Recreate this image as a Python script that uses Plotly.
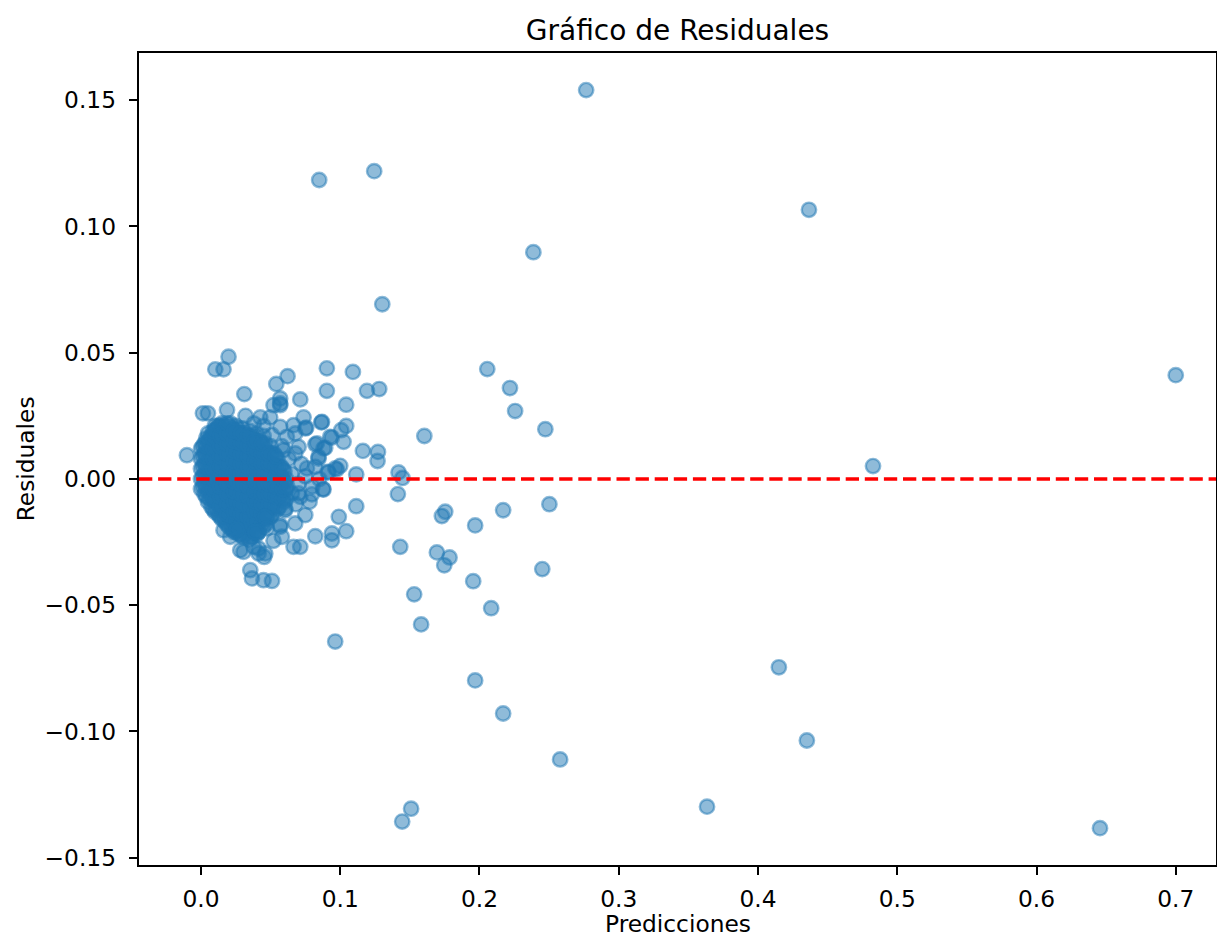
import plotly.graph_objects as go

# ---------------- data ----------------
# isolated / scattered points (predicción, residual)
scatter_pred = [
    0.2766, 0.0849, 0.1244, 0.4366, 0.2387, 0.1302, 0.7000, 0.2056, 0.2219, 0.2256,
    0.2473, 0.4826, 0.1604, 0.2502, 0.2170, 0.1969, 0.2451, 0.1955, 0.2084, 0.1531,
    0.1581, 0.0964, 0.1969, 0.2170, 0.4150, 0.4351, 0.2579, 0.3634, 0.1509, 0.1445,
    0.6456,
    0.0904, 0.1091, 0.0904, 0.1192, 0.1280, 0.0713, 0.1043, 0.0737, 0.0864, 0.0756,
    0.1043, 0.1007, 0.0940, 0.1024, 0.0821, 0.0892, 0.0844, 0.1163, 0.1271, 0.1268,
    0.1000, 0.0976, 0.0916, 0.1115, 0.1419, 0.1447, 0.1414, 0.0876, 0.0749, 0.1115,
    0.0990, 0.1043, 0.0940, 0.0940, 0.0821, 0.1431, 0.1754, 0.1730, 0.1694, 0.1785,
    0.1747, 0.0713,
    0.0198, 0.0103, 0.0162, 0.0311, 0.0622, 0.0541, 0.0569, 0.0569, 0.0014, 0.0187,
    0.0426, 0.0497, -0.0101, 0.0665, 0.0605, 0.0701, 0.0569, 0.0521, 0.0474, 0.0414,
    0.0282, 0.0378, 0.0414, 0.0454, 0.0354, 0.0366, 0.0449, 0.0510, 0.0210, 0.0162,
    0.0258,
    0.0869, 0.0749, 0.0928, 0.0833, 0.0880, 0.0665, 0.0677, 0.0617, 0.0701, 0.0593,
    0.0677, 0.0844, 0.0761, 0.0821, 0.0964, 0.0909, 0.0880, 0.0797, 0.0713, 0.0653,
    0.0677, 0.0605, 0.0569, 0.0462, 0.0474, 0.0581, 0.0390, 0.0414, 0.0306, 0.0462,
    0.0569, 0.0510, 0.0521, 0.0569,
    0.0650, 0.0700, 0.0750, 0.0800, 0.0850, 0.0720, 0.0680, 0.0780, 0.0630, 0.0580,
    0.0620, 0.0050, 0.0320, 0.0380, 0.0450,
]
scatter_resid = [
    0.1540, 0.1184, 0.1219, 0.1066, 0.0898, 0.0692, 0.0411, 0.0435, 0.0360, 0.0269,
    0.0197, 0.0051, 0.0170, -0.0100, -0.0124, -0.0184, -0.0357, -0.0405, -0.0512, -0.0457,
    -0.0576, -0.0644, -0.0798, -0.0929, -0.0746, -0.1036, -0.1111, -0.1298, -0.1306, -0.1357,
    -0.1383,
    0.0438, 0.0424, 0.0349, 0.0349, 0.0356, 0.0315, 0.0294, 0.0244, 0.0224, 0.0203,
    0.0210, 0.0193, 0.0164, 0.0147, 0.0137, 0.0123, 0.0088, 0.0111, 0.0107, 0.0071,
    0.0052, 0.0038, 0.0026, 0.0018, 0.0026, 0.0004, -0.0060, -0.0040, -0.0143, -0.0108,
    -0.0150, -0.0207, -0.0216, -0.0243, -0.0227, -0.0269, -0.0130, -0.0147, -0.0291, -0.0311,
    -0.0342, -0.0269,
    0.0484, 0.0434, 0.0434, 0.0336, 0.0407, 0.0376, 0.0319, 0.0292, 0.0260, 0.0273,
    0.0244, 0.0244, 0.0094, -0.0269, -0.0124, -0.0057, -0.0190, -0.0245, -0.0157, -0.0210,
    -0.0282, -0.0269, -0.0295, -0.0309, -0.0361, -0.0394, -0.0401, -0.0404, -0.0229, -0.0203,
    -0.0200,
    0.0226, 0.0200, 0.0167, 0.0141, 0.0121, 0.0213, 0.0180, 0.0167, 0.0127, 0.0114,
    0.0101, 0.0081, 0.0042, 0.0048, 0.0042, 0.0028, -0.0042, -0.0061, -0.0071, -0.0057,
    -0.0176, -0.0117, -0.0183, -0.0150, -0.0196, -0.0229, -0.0210, -0.0275, -0.0289, -0.0295,
    0.0206, 0.0174, 0.0292, 0.0299,
    0.0020, -0.0020, 0.0010, -0.0030, 0.0000, 0.0060, -0.0100, -0.0090, 0.0080, 0.0130,
    -0.0030, 0.0260, 0.0250, 0.0220, 0.0210,
]

# dense core of points near the origin: predicted value -> list of residuals
core_pred = [
    0.000, 0.005, 0.010, 0.015, 0.020, 0.025, 0.030, 0.035, 0.040, 0.045,
    0.050, 0.055, 0.060,
    0.0025, 0.0075, 0.0125, 0.0175, 0.0225, 0.0275, 0.0325, 0.0375, 0.0425,
    0.0475, 0.0525, 0.0575,
    0.00125, 0.00625, 0.01125, 0.01625, 0.02125, 0.02625, 0.03125, 0.03625,
    0.04125, 0.04625, 0.05125, 0.05625, 0.06125,
    0.00375, 0.00875, 0.01375, 0.01875, 0.02375, 0.02875, 0.03375, 0.03875,
    0.04375, 0.04875, 0.05375, 0.05875,
]
core_resid = [
    [-0.004, 0.000, 0.004, 0.008, 0.012],
    [-0.009, -0.005, -0.001, 0.003, 0.007, 0.011, 0.015, 0.018],
    [-0.013, -0.009, -0.005, -0.001, 0.003, 0.007, 0.011, 0.015, 0.019, 0.021],
    [-0.016, -0.012, -0.008, -0.004, 0.000, 0.004, 0.008, 0.012, 0.016, 0.020, 0.022],
    [-0.019, -0.015, -0.011, -0.007, -0.003, 0.001, 0.005, 0.009, 0.013, 0.017, 0.021],
    [-0.021, -0.017, -0.013, -0.009, -0.005, -0.001, 0.003, 0.007, 0.011, 0.015, 0.019, 0.021],
    [-0.023, -0.019, -0.015, -0.011, -0.007, -0.003, 0.001, 0.005, 0.009, 0.013, 0.017, 0.020],
    [-0.024, -0.020, -0.016, -0.012, -0.008, -0.004, 0.000, 0.004, 0.008, 0.012, 0.016, 0.019],
    [-0.022, -0.018, -0.014, -0.010, -0.006, -0.002, 0.002, 0.006, 0.010, 0.014, 0.018],
    [-0.019, -0.015, -0.011, -0.007, -0.003, 0.001, 0.005, 0.009, 0.013, 0.017],
    [-0.015, -0.011, -0.007, -0.003, 0.001, 0.005, 0.009, 0.013],
    [-0.012, -0.008, -0.004, 0.000, 0.004, 0.008],
    [-0.009, -0.005, -0.001, 0.003],
    [-0.006, -0.002, 0.002, 0.006, 0.010, 0.014],
    [-0.011, -0.007, -0.003, 0.001, 0.005, 0.009, 0.013, 0.017],
    [-0.014, -0.010, -0.006, -0.002, 0.002, 0.006, 0.010, 0.014, 0.018, 0.021],
    [-0.017, -0.013, -0.009, -0.005, -0.001, 0.003, 0.007, 0.011, 0.015, 0.019],
    [-0.020, -0.016, -0.012, -0.008, -0.004, 0.000, 0.004, 0.008, 0.012, 0.016, 0.020],
    [-0.022, -0.018, -0.014, -0.010, -0.006, -0.002, 0.002, 0.006, 0.010, 0.014, 0.018],
    [-0.021, -0.017, -0.013, -0.009, -0.005, -0.001, 0.003, 0.007, 0.011, 0.015],
    [-0.020, -0.016, -0.012, -0.008, -0.004, 0.000, 0.004, 0.008, 0.012, 0.016],
    [-0.017, -0.013, -0.009, -0.005, -0.001, 0.003, 0.007, 0.011, 0.015],
    [-0.013, -0.009, -0.005, -0.001, 0.003, 0.007, 0.011],
    [-0.010, -0.006, -0.002, 0.002, 0.006, 0.010],
    [-0.007, -0.003, 0.001, 0.005],
    [-0.003, 0.001, 0.005, 0.009, 0.013],
    [-0.008, -0.004, 0.000, 0.004, 0.008, 0.012, 0.016],
    [-0.012, -0.008, -0.004, 0.000, 0.004, 0.008, 0.012, 0.016, 0.020],
    [-0.015, -0.011, -0.007, -0.003, 0.001, 0.005, 0.009, 0.013, 0.017, 0.021],
    [-0.018, -0.014, -0.010, -0.006, -0.002, 0.002, 0.006, 0.010, 0.014, 0.018, 0.022],
    [-0.020, -0.016, -0.012, -0.008, -0.004, 0.000, 0.004, 0.008, 0.012, 0.016, 0.020],
    [-0.022, -0.018, -0.014, -0.010, -0.006, -0.002, 0.002, 0.006, 0.010, 0.014, 0.018],
    [-0.023, -0.019, -0.015, -0.011, -0.007, -0.003, 0.001, 0.005, 0.009, 0.013, 0.017],
    [-0.021, -0.017, -0.013, -0.009, -0.005, -0.001, 0.003, 0.007, 0.011, 0.015],
    [-0.018, -0.014, -0.010, -0.006, -0.002, 0.002, 0.006, 0.010, 0.014],
    [-0.014, -0.010, -0.006, -0.002, 0.002, 0.006, 0.010],
    [-0.011, -0.007, -0.003, 0.001, 0.005],
    [-0.008, -0.004, 0.000],
    [-0.007, -0.003, 0.001, 0.005, 0.009, 0.013, 0.016],
    [-0.012, -0.008, -0.004, 0.000, 0.004, 0.008, 0.012, 0.016, 0.019],
    [-0.015, -0.011, -0.007, -0.003, 0.001, 0.005, 0.009, 0.013, 0.017, 0.021],
    [-0.018, -0.014, -0.010, -0.006, -0.002, 0.002, 0.006, 0.010, 0.014, 0.018, 0.022],
    [-0.021, -0.017, -0.013, -0.009, -0.005, -0.001, 0.003, 0.007, 0.011, 0.015, 0.019],
    [-0.022, -0.018, -0.014, -0.010, -0.006, -0.002, 0.002, 0.006, 0.010, 0.014, 0.018],
    [-0.023, -0.019, -0.015, -0.011, -0.007, -0.003, 0.001, 0.005, 0.009, 0.013, 0.017],
    [-0.021, -0.017, -0.013, -0.009, -0.005, -0.001, 0.003, 0.007, 0.011, 0.015],
    [-0.018, -0.014, -0.010, -0.006, -0.002, 0.002, 0.006, 0.010, 0.014],
    [-0.014, -0.010, -0.006, -0.002, 0.002, 0.006, 0.010],
    [-0.011, -0.007, -0.003, 0.001, 0.005, 0.009],
    [-0.008, -0.004, 0.000, 0.004],
]

x_ticks = [0.0, 0.1, 0.2, 0.3, 0.4, 0.5, 0.6, 0.7]
x_ticktext = ["0.0", "0.1", "0.2", "0.3", "0.4", "0.5", "0.6", "0.7"]
y_ticks = [-0.15, -0.10, -0.05, 0.0, 0.05, 0.10, 0.15]
y_ticktext = ["\u22120.15", "\u22120.10", "\u22120.05", "0.00", "0.05", "0.10", "0.15"]

title_text = "Gráfico de Residuales"
x_label = "Predicciones"
y_label = "Residuales"

# ---------------- build ----------------
pred = []
resid = []
for px, ys in zip(core_pred, core_resid):
    for yv in ys:
        pred.append(px)
        resid.append(yv)
pred += scatter_pred
resid += scatter_resid

FONT = "DejaVu Sans"
FS = 23.3
blue = "rgba(31,119,180,0.5)"

fig = go.Figure()
fig.add_trace(go.Scatter(
    x=pred, y=resid, mode="markers",
    marker=dict(size=14.4, color=blue, line=dict(color=blue, width=2.4)),
    showlegend=False, hoverinfo="skip",
))

fig.add_shape(type="line", xref="paper", yref="y", x0=0, x1=1, y0=0, y1=0,
              line=dict(color="red", width=3.6, dash="13.3px,5.8px"))

axis_common = dict(
    showline=True, mirror=True, linecolor="black", linewidth=1.9,
    ticks="outside", ticklen=8.4, tickwidth=1.9, tickcolor="black",
    showgrid=False, zeroline=False, automargin=False,
    tickfont=dict(family=FONT, size=FS, color="black"),
)

# axis titles as annotations for exact placement
fig.add_annotation(text=x_label, xref="paper", yref="paper", x=0.5, y=-(923 - 864.7) / 811.7,
                   xanchor="center", yanchor="middle", showarrow=False,
                   font=dict(family=FONT, size=FS, color="black"))
fig.add_annotation(text=y_label, xref="paper", yref="paper", x=-(138.7 - 25) / 1077.3, y=0.5,
                   xanchor="center", yanchor="middle", showarrow=False, textangle=-90,
                   font=dict(family=FONT, size=FS, color="black"))

fig.update_layout(
    width=1217, height=939,
    margin=dict(l=139, r=1, t=53, b=74),
    paper_bgcolor="white", plot_bgcolor="white",
    font=dict(family=FONT, color="black"),
    title=dict(text=title_text, x=0.5, xref="paper", xanchor="center",
               y=1 - 30 / 939, yref="container", yanchor="middle",
               font=dict(family=FONT, size=28, color="black")),
    xaxis=dict(range=[-0.0445, 0.7289], tickvals=x_ticks, ticktext=x_ticktext,
               ticklabelstandoff=4, **axis_common),
    yaxis=dict(range=[-0.1529, 0.1687], tickvals=y_ticks, ticktext=y_ticktext,
               ticklabelstandoff=8, **axis_common),
)

fig.write_html("out.html")
